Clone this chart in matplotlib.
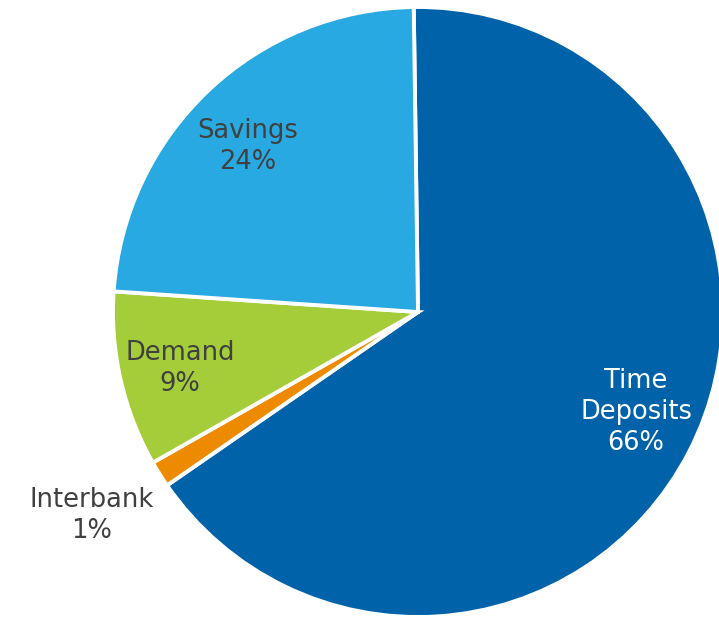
import matplotlib
matplotlib.use("Agg")
from matplotlib import pyplot as plt

plt.rcParams['font.family'] = ['DejaVu Sans']

# deposit mix, clockwise from the top
labels = ['Time\nDeposits', 'Interbank', 'Demand', 'Savings']
shares = [65.6, 1.4, 9.3, 23.7]
colors = ['#0062A9', '#EE8A00', '#A4CD39', '#29A9E1']
text_colors = ['white', '#404040', '#404040', '#404040']
# label anchors in pie units (radius 1)
label_pos = [(0.715, -0.328), (-1.069, -0.666), (-0.780, -0.184), (-0.557, 0.544)]

fig = plt.figure(figsize=(7.19, 6.18), dpi=100)
ax = fig.add_axes([113 / 719, 1 / 618, 610 / 719, 610 / 618])

ax.pie(shares, colors=colors, startangle=90.8, counterclock=False,
       radius=1, wedgeprops={'edgecolor': 'white', 'linewidth': 2.8})

for lab, val, (x, y), tc in zip(labels, shares, label_pos, text_colors):
    ax.text(x, y, f"{lab}\n{round(val):d}%", ha='center', va='center',
            fontsize=18.5, color=tc, linespacing=1.25)

ax.set_xlim(-1, 1)
ax.set_ylim(-1, 1)
ax.set_aspect('auto')
ax.axis('off')

fig.savefig('out.png', dpi=100)
